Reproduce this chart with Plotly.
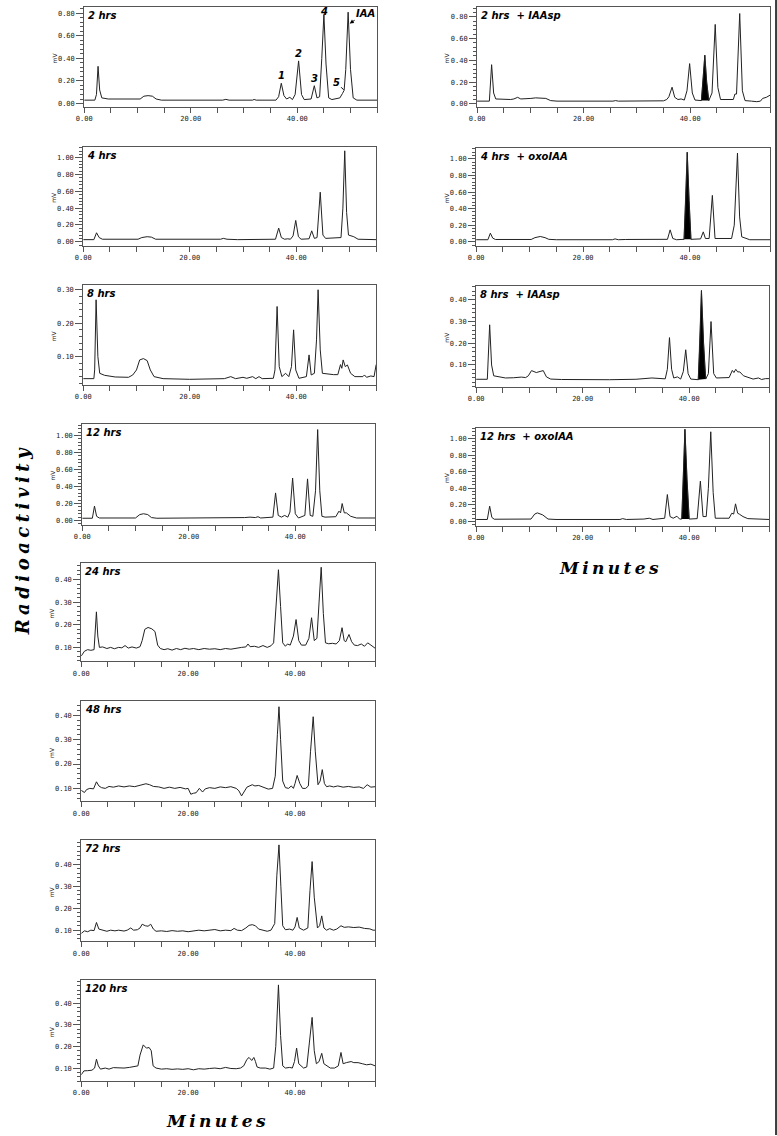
import plotly.graph_objects as go

W, H = 777, 1136

# ---------------- data: (minutes, mV) ----------------
trace_2h = [(0,0.03),(2.0,0.03),(2.3,0.08),(2.6,0.33),(2.9,0.12),(3.3,0.05),(4.5,0.04),(8.0,0.04),(8.5,0.045),(9.5,0.045),
            (10.5,0.04),(11.2,0.065),(12.0,0.07),(12.8,0.065),(13.5,0.04),(14.5,0.03),(26.0,0.03),(26.6,0.037),(27.2,0.03),
            (31.6,0.03),(31.9,0.036),(32.3,0.03),(33.1,0.03),(33.4,0.036),(33.8,0.03),(36.0,0.03),(36.5,0.06),(37.0,0.18),
            (37.5,0.07),(38.0,0.04),(38.6,0.055),(39.1,0.035),(39.6,0.08),(40.25,0.378),(40.8,0.08),(41.3,0.035),(42.6,0.04),
            (43.2,0.158),(43.7,0.05),(44.2,0.06),(44.6,0.4),(45.0,0.79),(45.4,0.35),(45.9,0.05),(46.5,0.035),(48.0,0.05),
            (48.5,0.09),(48.8,0.117),(49.1,0.3),(49.55,0.81),(50.0,0.3),(50.5,0.05),(51.2,0.03),(55,0.03)]

trace_4h = [(0,0.025),(2.0,0.025),(2.5,0.107),(3.0,0.05),(3.6,0.03),(10.3,0.03),(11.0,0.05),(12.0,0.06),(12.8,0.055),
            (13.6,0.03),(25.8,0.03),(26.3,0.04),(27,0.03),(29,0.025),(36.1,0.03),(36.7,0.163),(37.2,0.05),(37.8,0.03),
            (38.4,0.035),(38.9,0.03),(39.4,0.07),(39.9,0.254),(40.4,0.06),(40.9,0.03),(42.4,0.035),(42.9,0.13),(43.4,0.04),
            (43.9,0.05),(44.5,0.59),(45.0,0.08),(45.5,0.04),(47.5,0.045),(48.4,0.05),(48.75,0.4),(49.1,1.083),(49.45,0.35),
            (49.8,0.08),(50.8,0.06),(51.6,0.03),(55,0.025)]

trace_8h = [(0,0.034),(2.0,0.034),(2.15,0.06),(2.42,0.27),(2.75,0.1),(3.1,0.05),(4.0,0.044),(6,0.039),(8.5,0.038),
            (9.3,0.045),(10.0,0.06),(10.6,0.09),(11.3,0.094),(12.0,0.088),(12.6,0.06),(13.3,0.04),(15,0.034),(20,0.032),
            (26.5,0.034),(27.7,0.04),(28.6,0.034),(30.0,0.038),(30.7,0.035),(31.8,0.04),(32.4,0.034),(33.0,0.04),(33.6,0.034),
            (35.7,0.035),(36.0,0.06),(36.4,0.25),(36.8,0.07),(37.3,0.04),(38.0,0.05),(38.6,0.04),(39.1,0.07),(39.5,0.18),
            (39.9,0.06),(40.5,0.035),(41.9,0.04),(42.4,0.105),(42.8,0.045),(43.4,0.05),(43.8,0.15),(44.1,0.30),(44.5,0.12),
            (44.9,0.05),(47.0,0.046),(47.8,0.046),(48.3,0.076),(48.55,0.065),(48.8,0.09),(49.2,0.07),(49.6,0.075),(50.2,0.05),
            (51.0,0.04),(52.5,0.04),(52.8,0.045),(53.2,0.038),(54.0,0.042),(54.6,0.04),(55,0.076)]

trace_12h = [(0,0.027),(1.9,0.027),(2.3,0.17),(2.7,0.05),(3.2,0.03),(10.0,0.03),(10.8,0.07),(11.5,0.08),(12.3,0.07),
             (13.0,0.035),(14,0.027),(26.5,0.027),(27.5,0.035),(28.5,0.03),(30.5,0.035),(31.5,0.04),(32.5,0.035),(33.0,0.045),
             (33.5,0.03),(35.8,0.04),(36.3,0.325),(36.8,0.06),(37.4,0.04),(38.0,0.06),(38.6,0.04),(39.0,0.1),(39.5,0.50),
             (40.0,0.08),(40.6,0.03),(41.8,0.06),(42.3,0.49),(42.8,0.06),(43.3,0.05),(43.8,0.35),(44.2,1.07),(44.6,0.35),
             (45.0,0.05),(45.6,0.04),(47.6,0.045),(48.2,0.11),(48.5,0.09),(48.8,0.20),(49.2,0.09),(49.6,0.09),(50.4,0.05),
             (51.5,0.03),(55,0.03)]

trace_24h = [(0,0.062),(0.3,0.075),(0.6,0.083),(1.2,0.09),(1.8,0.087),(2.4,0.09),(2.6,0.15),(2.84,0.257),(3.1,0.15),
             (3.4,0.1),(4.0,0.102),(4.8,0.095),(5.5,0.1),(6.2,0.094),(7.0,0.1),(7.6,0.098),(8.2,0.108),(8.8,0.097),(9.5,0.102),
             (10.3,0.097),(11.0,0.103),(11.4,0.13),(11.9,0.18),(12.5,0.188),(13.2,0.182),(13.8,0.17),(14.3,0.11),(14.8,0.095),
             (15.5,0.09),(16.2,0.094),(17.0,0.088),(17.8,0.095),(18.6,0.09),(19.4,0.096),(20.2,0.092),(21.0,0.095),(22.0,0.09),
             (23.0,0.095),(24.0,0.092),(25.0,0.094),(26.0,0.09),(27.0,0.095),(28.0,0.092),(29.0,0.097),(30.0,0.1),(30.8,0.102),
             (31.2,0.115),(31.6,0.103),(32.4,0.105),(33.2,0.1),(34.0,0.108),(34.8,0.1),(35.5,0.107),(36.0,0.12),(36.5,0.3),
             (36.9,0.443),(37.3,0.28),(37.7,0.12),(38.2,0.105),(38.6,0.115),(39.1,0.11),(39.7,0.15),(40.2,0.223),(40.7,0.13),
             (41.2,0.11),(42.0,0.11),(42.6,0.14),(43.1,0.231),(43.6,0.13),(44.1,0.14),(44.5,0.3),(44.9,0.454),(45.3,0.25),
             (45.7,0.12),(46.3,0.116),(47.0,0.118),(47.7,0.115),(48.3,0.13),(48.8,0.187),(49.2,0.13),(49.5,0.125),(50.1,0.157),
             (50.6,0.125),(51.1,0.11),(51.7,0.108),(52.4,0.115),(53.0,0.105),(53.6,0.12),(54.2,0.11),(55,0.096)]

trace_48h = [(0,0.092),(0.4,0.088),(0.6,0.083),(1.0,0.095),(1.6,0.1),(2.3,0.098),(2.85,0.127),(3.3,0.11),(3.8,0.103),
             (4.5,0.1),(5.2,0.108),(6.0,0.105),(7.0,0.11),(8.0,0.106),(9.0,0.11),(10.0,0.107),(11.0,0.112),(12.1,0.119),
             (12.8,0.115),(13.5,0.108),(14.5,0.106),(15.5,0.1),(16.5,0.105),(17.5,0.1),(18.5,0.104),(19.5,0.098),(20.0,0.1),
             (20.5,0.076),(21.0,0.08),(21.5,0.082),(22.1,0.1),(22.7,0.085),(23.2,0.098),(24.0,0.103),(25.0,0.1),(26.0,0.106),
             (27.0,0.103),(28.0,0.107),(29.0,0.1),(29.5,0.09),(30.0,0.069),(30.5,0.09),(31.0,0.105),(32.0,0.115),(32.5,0.11),
             (33.2,0.112),(34.0,0.105),(35.0,0.097),(35.8,0.1),(36.3,0.15),(36.7,0.32),(37.0,0.435),(37.3,0.3),(37.7,0.13),
             (38.2,0.103),(38.8,0.1),(39.3,0.11),(39.7,0.1),(40.0,0.12),(40.4,0.153),(40.9,0.12),(41.4,0.1),(42.0,0.1),
             (42.5,0.11),(42.9,0.25),(43.4,0.394),(43.8,0.25),(44.3,0.115),(44.7,0.13),(45.1,0.177),(45.5,0.12),(45.9,0.107),
             (46.5,0.11),(47.2,0.106),(48.0,0.11),(49.0,0.105),(50.0,0.108),(51.0,0.104),(52.0,0.106),(52.8,0.1),(53.5,0.115),
             (54.2,0.105),(55,0.107)]

trace_72h = [(0,0.085),(0.6,0.097),(1.2,0.093),(1.8,0.1),(2.4,0.098),(2.85,0.135),(3.3,0.105),(4.0,0.1),(4.8,0.095),
             (5.5,0.1),(6.3,0.097),(7.0,0.1),(8.0,0.096),(8.6,0.1),(9.26,0.11),(9.8,0.1),(10.5,0.102),(11.0,0.11),(11.4,0.127),
             (12.0,0.12),(12.5,0.118),(13.0,0.127),(13.5,0.105),(14.0,0.095),(15.0,0.097),(16.0,0.094),(17.0,0.098),
             (18.0,0.095),(19.0,0.097),(20.0,0.093),(21.0,0.098),(22.0,0.1),(23.0,0.097),(24.0,0.1),(25.0,0.103),(26.0,0.097),
             (27.0,0.1),(28.0,0.098),(28.6,0.108),(29.2,0.1),(30.0,0.098),(30.8,0.11),(31.4,0.122),(32.0,0.125),(32.6,0.12),
             (33.2,0.105),(34.0,0.1),(34.8,0.095),(35.5,0.1),(36.2,0.13),(36.6,0.35),(37.0,0.488),(37.35,0.3),(37.7,0.12),
             (38.2,0.102),(39.0,0.105),(39.6,0.1),(40.0,0.115),(40.4,0.158),(40.8,0.11),(41.6,0.1),(42.4,0.11),(42.8,0.28),
             (43.2,0.412),(43.6,0.25),(44.2,0.11),(44.6,0.12),(45.0,0.165),(45.4,0.11),(45.9,0.1),(46.5,0.107),(47.2,0.1),
             (47.8,0.105),(48.6,0.12),(49.2,0.113),(50.0,0.115),(51.0,0.112),(52.0,0.114),(53.0,0.108),(54.0,0.106),
             (54.6,0.1),(55,0.1)]

trace_120h = [(0,0.069),(0.5,0.087),(1.2,0.088),(2.0,0.09),(2.5,0.1),(2.85,0.141),(3.2,0.11),(3.6,0.095),(4.5,0.1),
              (5.2,0.095),(6.0,0.102),(7.0,0.1),(8.0,0.1),(9.0,0.103),(10.0,0.107),(10.6,0.11),(11.0,0.16),(11.6,0.207),
              (12.2,0.192),(12.7,0.195),(13.1,0.18),(13.45,0.11),(14.0,0.1),(15.0,0.095),(16.0,0.097),(17.0,0.094),
              (18.0,0.096),(19.0,0.094),(20.0,0.097),(21.0,0.092),(22.0,0.097),(23.0,0.095),(24.0,0.098),(25.0,0.1),
              (26.0,0.097),(27.0,0.103),(28.0,0.098),(29.0,0.097),(29.8,0.1),(30.4,0.11),(31.0,0.14),(31.4,0.149),
              (31.9,0.135),(32.3,0.149),(32.6,0.13),(32.9,0.105),(33.5,0.1),(34.5,0.1),(35.3,0.095),(36.0,0.1),(36.4,0.2),
              (36.9,0.484),(37.3,0.25),(37.7,0.11),(38.2,0.1),(39.0,0.103),(39.5,0.1),(39.9,0.13),(40.3,0.192),(40.7,0.12),
              (41.6,0.1),(42.2,0.105),(42.7,0.22),(43.2,0.334),(43.6,0.18),(44.0,0.12),(44.5,0.13),(45.0,0.168),(45.4,0.12),
              (45.9,0.11),(46.6,0.1),(47.4,0.1),(48.1,0.11),(48.6,0.172),(49.0,0.12),(49.6,0.125),(50.5,0.13),(51.0,0.125),
              (51.8,0.125),(52.6,0.12),(53.4,0.115),(54.2,0.118),(55,0.11)]

trace_2h_iaasp = [(0,0.025),(2.3,0.025),(2.72,0.36),(3.1,0.1),(3.5,0.045),(5,0.04),(6.3,0.04),(6.9,0.045),(7.6,0.06),
                  (8.2,0.045),(9.3,0.045),(10.1,0.05),(11.0,0.055),(12.0,0.05),(12.9,0.05),(13.8,0.03),(15,0.025),
                  (25.5,0.025),(26,0.03),(26.5,0.025),(29.5,0.028),(32,0.03),(35.0,0.028),(35.6,0.04),(36.0,0.065),
                  (36.6,0.153),(37.1,0.06),(37.7,0.04),(38.3,0.045),(38.9,0.035),(39.4,0.12),(39.9,0.37),(40.4,0.1),
                  (40.9,0.035),(42.1,0.03),(42.45,0.25),(42.75,0.447),(43.1,0.2),(43.5,0.03),(44.1,0.1),(44.7,0.73),
                  (45.2,0.15),(45.7,0.04),(48.1,0.04),(48.4,0.09),(48.7,0.09),(49.3,0.83),(49.8,0.12),(50.3,0.03),
                  (51.5,0.025),(52.5,0.02),(53.2,0.025),(53.6,0.05),(54.3,0.06),(55,0.08)]

trace_4h_oxoiaa = [(0,0.025),(2.2,0.025),(2.66,0.104),(3.1,0.045),(3.6,0.028),(10.3,0.028),(11.0,0.05),(12.0,0.064),
                   (12.9,0.05),(13.6,0.03),(15,0.025),(25.5,0.025),(26,0.035),(26.6,0.025),(28,0.028),(35.8,0.03),
                   (36.3,0.144),(36.8,0.04),(37.5,0.025),(38.3,0.03),(38.9,0.03),(39.2,0.5),(39.5,1.08),(39.85,0.5),
                   (40.2,0.03),(42.0,0.035),(42.5,0.12),(42.9,0.04),(43.6,0.04),(44.2,0.56),(44.7,0.04),(47.8,0.04),
                   (48.3,0.2),(48.9,1.07),(49.3,0.3),(49.7,0.06),(50.4,0.04),(51.2,0.025),(55,0.025)]

trace_8h_iaasp = [(0,0.034),(2.1,0.034),(2.54,0.285),(2.9,0.1),(3.3,0.05),(4.0,0.046),(5.5,0.04),(7,0.041),(8.5,0.044),
                  (9.3,0.042),(9.8,0.05),(10.4,0.074),(11.3,0.065),(12.0,0.07),(12.6,0.074),(13.2,0.045),(14,0.035),
                  (16,0.033),(20,0.031),(25,0.032),(30,0.034),(32,0.038),(33,0.04),(35.5,0.036),(35.9,0.08),(36.3,0.226),
                  (36.7,0.08),(37.1,0.04),(37.8,0.045),(38.4,0.035),(38.9,0.07),(39.35,0.17),(39.8,0.06),(40.3,0.035),
                  (41.7,0.032),(42.0,0.2),(42.3,0.443),(42.7,0.2),(43.1,0.035),(43.6,0.06),(44.1,0.30),(44.6,0.06),
                  (45.1,0.04),(47.5,0.042),(48.1,0.075),(48.4,0.065),(48.75,0.08),(49.1,0.068),(49.5,0.068),(50.2,0.05),
                  (51.0,0.042),(52.0,0.035),(53.0,0.04),(53.6,0.033),(54.3,0.037),(55,0.037)]

trace_12h_oxoiaa = [(0,0.025),(2.1,0.025),(2.54,0.185),(2.95,0.05),(3.4,0.028),(10.3,0.03),(11.0,0.09),(11.5,0.104),
                    (12.5,0.08),(13.5,0.03),(15,0.025),(27,0.025),(27.5,0.035),(28.2,0.025),(31.5,0.03),(32.5,0.04),
                    (33.2,0.025),(35.4,0.04),(35.9,0.325),(36.4,0.06),(37.0,0.04),(37.7,0.064),(38.2,0.03),(38.6,0.03),
                    (38.9,0.55),(39.2,1.11),(39.6,0.5),(40.0,0.03),(41.5,0.035),(42.1,0.486),(42.6,0.06),(43.2,0.06),
                    (43.6,0.4),(44.05,1.08),(44.5,0.35),(44.9,0.04),(46,0.04),(47.5,0.04),(48.0,0.1),(48.35,0.09),
                    (48.7,0.213),(49.1,0.1),(49.4,0.09),(50.1,0.06),(51.0,0.035),(52.5,0.03),(55,0.025)]

# shaded (co-injected standard) peak windows, minutes
shade_2h_iaasp = (42.05, 43.55)
shade_4h_oxoiaa = (38.85, 40.25)
shade_8h_iaasp = (41.65, 43.15)
shade_12h_oxoiaa = (38.55, 40.05)

panel_titles = ["2 hrs", "4 hrs", "8 hrs", "12 hrs", "24 hrs", "48 hrs", "72 hrs", "120 hrs",
                "2 hrs\u00a0 + IAAsp", "4 hrs\u00a0 + oxoIAA", "8 hrs\u00a0 + IAAsp", "12 hrs\u00a0 + oxoIAA"]

x_ticks = [0, 20, 40]
y_ticks_08 = [0.0, 0.2, 0.4, 0.6, 0.8]
y_ticks_10 = [0.0, 0.2, 0.4, 0.6, 0.8, 1.0]
y_ticks_03 = [0.1, 0.2, 0.3]
y_ticks_04 = [0.1, 0.2, 0.3, 0.4]

peak_labels = ["1", "2", "3", "4"]
peak_label_pos = [(37.0, 0.245), (40.25, 0.44), (43.2, 0.22), (45.0, 0.82)]

# ---------------- layout of panels (pixel boxes: left, right, top, bottom) ----------------
panels = [
    dict(data=trace_2h, box=(77, 373, 7, 107), yr=(-0.03, 0.856), yt=y_ticks_08, minor=0.04),
    dict(data=trace_4h, box=(76, 372, 147, 246), yr=(-0.048, 1.13), yt=y_ticks_10, minor=0.04),
    dict(data=trace_8h, box=(76, 372, 285, 385), yr=(0.016, 0.315), yt=y_ticks_03, minor=0.02),
    dict(data=trace_12h, box=(75, 371, 424, 525), yr=(-0.047, 1.14), yt=y_ticks_10, minor=0.04),
    dict(data=trace_24h, box=(74, 371, 563, 662), yr=(0.038, 0.475), yt=y_ticks_04, minor=0.02),
    dict(data=trace_48h, box=(74, 371, 702, 802), yr=(0.047, 0.457), yt=y_ticks_04, minor=0.02),
    dict(data=trace_72h, box=(74, 371, 841, 942), yr=(0.05, 0.509), yt=y_ticks_04, minor=0.02),
    dict(data=trace_120h, box=(74, 371, 981, 1082), yr=(0.04, 0.506), yt=y_ticks_04, minor=0.02),
    dict(data=trace_2h_iaasp, box=(474, 770, 7, 107), yr=(-0.028, 0.89), yt=y_ticks_08, minor=0.04, shade=shade_2h_iaasp),
    dict(data=trace_4h_oxoiaa, box=(473, 770, 148, 246), yr=(-0.048, 1.133), yt=y_ticks_10, minor=0.04, shade=shade_4h_oxoiaa),
    dict(data=trace_8h_iaasp, box=(473, 769, 286, 387), yr=(0.0, 0.465), yt=y_ticks_04, minor=0.02, shade=shade_8h_iaasp),
    dict(data=trace_12h_oxoiaa, box=(473, 769, 428, 526), yr=(-0.048, 1.13), yt=y_ticks_10, minor=0.04, shade=shade_12h_oxoiaa),
]

AXC = "#555555"
TICKFONT = dict(family="DejaVu Sans Mono", size=7, color="#222222")
LBLFONT = dict(family="DejaVu Sans", size=10, color="black", weight="bold", style="italic")

fig = go.Figure()
layout_axes = {}
annotations = []

for i, p in enumerate(panels):
    n = i + 1
    xa = "x" if n == 1 else f"x{n}"
    ya = "y" if n == 1 else f"y{n}"
    xl = "xaxis" if n == 1 else f"xaxis{n}"
    yl = "yaxis" if n == 1 else f"yaxis{n}"
    l, r, top, bot = p["box"]

    if p.get("shade"):
        lo, hi = p["shade"]
        pts = [q for q in p["data"] if lo <= q[0] <= hi]
        fig.add_trace(go.Scatter(x=[q[0] for q in pts], y=[q[1] for q in pts], mode="lines",
                                 fill="toself", fillcolor="black", line=dict(color="black", width=0.5),
                                 xaxis=xa, yaxis=ya, hoverinfo="skip"))
    fig.add_trace(go.Scatter(x=[q[0] for q in p["data"]], y=[q[1] for q in p["data"]], mode="lines",
                             line=dict(color="#222222", width=1), xaxis=xa, yaxis=ya, hoverinfo="skip"))

    layout_axes[xl] = dict(domain=[l / W, r / W], anchor=ya, range=[0, 55], tickmode="array",
                           tickvals=x_ticks, ticktext=[f"{v:.2f}" for v in x_ticks],
                           ticks="outside", ticklen=5, tickcolor=AXC, tickwidth=1,
                           minor=dict(ticks="outside", ticklen=5, dtick=5, tick0=0, tickcolor=AXC, showgrid=False),
                           showline=True, mirror=True, linecolor=AXC, linewidth=1,
                           showgrid=False, zeroline=False, tickfont=TICKFONT, fixedrange=True)
    layout_axes[yl] = dict(domain=[1 - bot / H, 1 - top / H], anchor=xa, range=list(p["yr"]), tickmode="array",
                           tickvals=p["yt"], ticktext=[f"{v:.2f}" for v in p["yt"]],
                           ticks="outside", ticklen=7, tickcolor=AXC, tickwidth=1,
                           minor=dict(ticks="outside", ticklen=3, dtick=p["minor"], tick0=0, tickcolor=AXC, showgrid=False),
                           showline=True, mirror=True, linecolor=AXC, linewidth=1,
                           showgrid=False, zeroline=False, tickfont=TICKFONT, fixedrange=True)

    # panel title
    annotations.append(dict(xref="paper", yref="paper", x=(l + 1.5) / W, y=1 - (top + 1) / H,
                            xanchor="left", yanchor="top", text=panel_titles[i], showarrow=False, font=LBLFONT))
    # mV label
    annotations.append(dict(xref="paper", yref="paper", x=(l - 30) / W, y=1 - ((top + bot) / 2 + 1) / H,
                            xanchor="center", yanchor="middle", text="mV", textangle=-90, showarrow=False,
                            font=dict(family="DejaVu Sans", size=6, color="#222222")))

# peak numbering on the 2 hrs panel
for lab, (px, py) in zip(peak_labels, peak_label_pos):
    annotations.append(dict(xref="x", yref="y", x=px, y=py, text=lab, showarrow=False, font=LBLFONT))
annotations.append(dict(xref="x", yref="y", axref="x", ayref="y", x=48.7, y=0.122, ax=47.3, ay=0.19,
                        text="5", showarrow=True, arrowhead=0, arrowwidth=1, arrowcolor="black", font=LBLFONT))
annotations.append(dict(xref="x", yref="y", axref="x", ayref="y", x=49.85, y=0.71, ax=52.8, ay=0.80,
                        text="IAA", showarrow=True, arrowhead=2, arrowsize=0.8, arrowwidth=1, arrowcolor="black",
                        font=LBLFONT))

RADIO = dict(family="DejaVu Serif", size=18, color="black", weight="bold", style="italic")
MINS = dict(family="DejaVu Serif", size=17, color="black", weight="bold", style="italic")
annotations.append(dict(xref="paper", yref="paper", x=15 / W, y=1 - 542 / H, xanchor="center", yanchor="middle",
                        text="\u2005".join("Radioactivity"), textangle=-90, showarrow=False, font=RADIO))
annotations.append(dict(xref="paper", yref="paper", x=210 / W, y=1 - 1122 / H, xanchor="center", yanchor="middle",
                        text="\u2009".join("Minutes"), showarrow=False, font=MINS))
annotations.append(dict(xref="paper", yref="paper", x=607 / W, y=1 - 568 / H, xanchor="center", yanchor="middle",
                        text="\u2009".join("Minutes"), showarrow=False, font=MINS))

fig.update_layout(width=W, height=H, margin=dict(l=0, r=0, t=0, b=0), showlegend=False,
                  paper_bgcolor="white", plot_bgcolor="white", hovermode=False,
                  annotations=annotations,
                  shapes=[dict(type="line", xref="paper", yref="paper", x0=776 / W, x1=776 / W, y0=0, y1=1,
                               line=dict(color="black", width=1.5))],
                  **layout_axes)

fig.write_html("out.html", config={"displayModeBar": False},
               post_script="document.body.style.margin='0px';document.body.style.padding='0px';")
